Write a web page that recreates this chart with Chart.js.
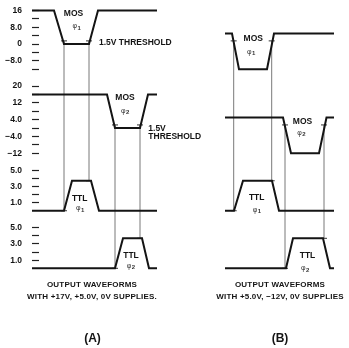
<!DOCTYPE html>
<html>
<head>
<meta charset="utf-8">
<script src="https://cdn.jsdelivr.net/npm/chart.js@4/dist/chart.umd.min.js"></script>
<style>
  html, body { margin: 0; padding: 0; background: #fff; }
  #wrap { width: 349px; height: 348px; position: relative; }
</style>
</head>
<body>
<div id="wrap"><canvas id="c"></canvas></div>
<script>
// ---- Waveform data: time (arbitrary units) and voltage (V) ----
// Panel A: +17V, +5.0V, 0V supplies
const tMos1A = [0, 22, 32, 57, 66, 125];
const vMos1A = [16, 16, 0, 0, 16, 16];
const tMos2A = [0, 75, 83, 108, 116, 125];
const vMos2A = [16, 16, 0, 0, 16, 16];
const tTtl1A = [0, 32, 40, 59, 67, 125];
const vTtl1A = [0, 0, 3.7, 3.7, 0, 0];
const tTtl2A = [0, 83, 91, 110, 117, 125];
const vTtl2A = [0, 0, 3.7, 3.7, 0, 0];

// Panel B: +5.0V, -12V, 0V supplies
const tMos1B = [193, 200, 207, 235, 242, 302];
const vMos1B = [5, 5, -12, -12, 5, 5];
const tMos2B = [193, 251, 259, 287, 294.5, 302];
const vMos2B = [5, 5, -12, -12, 5, 5];
const tTtl1B = [193, 202, 211, 240, 247, 302];
const vTtl1B = [0, 0, 3.7, 3.7, 0, 0];
const tTtl2B = [193, 254, 261, 291, 298, 302];
const vTtl2B = [0, 0, 3.7, 3.7, 0, 0];

// Threshold crossings that line up MOS edges with TTL edges
const THRESHOLD = 1.5;
const markTimesA = [32, 57, 83, 108];
const markTimesB = [201.7, 239.7, 253, 292];
const markTtlLevel = [0, 3.7, 0, 3.7];

// Axis ticks and their labels
const mos1Ticks = [16, 12, 8, 4, 0, -4, -8, -12];
const mos1Labels = ['16', '', '8.0', '', '0', '', '\u22128.0', ''];
const mos2Ticks = [20, 16, 12, 8, 4, 0, -4, -8, -12];
const mos2Labels = ['20', '', '12', '', '4.0', '', '\u22124.0', '', '\u221212'];
const ttlTicks = [5, 4, 3, 2, 1];
const ttlLabels = ['5.0', '', '3.0', '', '1.0'];

// ---- Layout constants ----
const MOS_PX = 2.1;   // vertical weight per volt, MOS rows
const TTL_PX = 8.1;   // vertical weight per volt, TTL rows
const INK = '#141414';
const FONT = '"Liberation Sans", Arial, sans-serif';

const rows = {
  yM1: { min: -17, max: 20, px: MOS_PX, ticks: mos1Ticks, labels: mos1Labels, weight: 4 },
  yM2: { min: -16, max: 23, px: MOS_PX, ticks: mos2Ticks, labels: mos2Labels, weight: 3 },
  yT1: { min: -0.9, max: 6.05, px: TTL_PX, ticks: ttlTicks, labels: ttlLabels, weight: 2 },
  yT2: { min: -0.95, max: 6.2, px: TTL_PX, ticks: ttlTicks, labels: ttlLabels, weight: 1 }
};

function makeAxis(r) {
  return {
    type: 'linear',
    position: 'left',
    stack: 'waves',
    stackWeight: (r.max - r.min) * r.px,
    weight: r.weight,
    min: r.min,
    max: r.max,
    afterBuildTicks: (ax) => { ax.ticks = r.ticks.map(v => ({ value: v })); },
    afterFit: (ax) => {
      ax.width = 32;
      ax.paddingTop = 0;
      ax.paddingBottom = 0;
    },
    border: { display: false },
    grid: {
      drawOnChartArea: false,
      drawTicks: true,
      tickLength: -7,
      tickColor: '#222',
      tickWidth: 1.2
    },
    ticks: {
      autoSkip: false,
      padding: 17,
      color: INK,
      font: { family: FONT, weight: 'bold', size: 8.5 },
      callback: (value) => {
        const i = r.ticks.indexOf(value);
        return i >= 0 ? r.labels[i] : '';
      }
    }
  };
}

function wave(t, v, axis) {
  return {
    data: t.map((x, i) => ({ x: x, y: v[i] })),
    yAxisID: axis,
    xAxisID: 'x',
    borderColor: INK,
    borderWidth: 2,
    pointRadius: 0,
    fill: false,
    tension: 0,
    borderJoinStyle: 'miter'
  };
}

// Thin alignment lines from the MOS 1.5V crossing down to the TTL edge
const markers = [];
[markTimesA, markTimesB].forEach(times => {
  times.forEach((t, i) => {
    markers.push({
      t: t,
      from: i < 2 ? 'yM1' : 'yM2',
      to: i < 2 ? 'yT1' : 'yT2',
      level: markTtlLevel[i]
    });
  });
});

const markerPlugin = {
  id: 'markers',
  beforeDatasetsDraw(chart) {
    const ctx = chart.ctx;
    const x = chart.scales.x;
    ctx.save();
    ctx.strokeStyle = '#555';
    ctx.lineWidth = 0.8;
    markers.forEach(m => {
      const px = x.getPixelForValue(m.t);
      const y1 = chart.scales[m.from].getPixelForValue(THRESHOLD);
      const y2 = chart.scales[m.to].getPixelForValue(m.level);
      ctx.beginPath();
      ctx.moveTo(px, y1);
      ctx.lineTo(px, y2);
      ctx.stroke();
    });
    ctx.lineWidth = 1;
    ctx.strokeStyle = '#333';
    markers.forEach(m => {
      const px = x.getPixelForValue(m.t);
      const y1 = chart.scales[m.from].getPixelForValue(THRESHOLD);
      const y2 = chart.scales[m.to].getPixelForValue(m.level);
      [y1, y2].forEach(yy => {
        ctx.beginPath();
        ctx.moveTo(px - 3, yy);
        ctx.lineTo(px + 3, yy);
        ctx.stroke();
      });
    });
    ctx.restore();
  }
};

// Signal names placed in data coordinates next to each trace
const notes = [
  { text: 'MOS', t: 41.5, axis: 'yM1', v: 14.3 },
  { phi: '1', t: 45, axis: 'yM1', v: 8.6 },
  { text: '1.5V THRESHOLD', t: 67, axis: 'yM1', v: 0.5, align: 'left' },
  { text: 'MOS', t: 93, axis: 'yM2', v: 14.6 },
  { phi: '2', t: 93.5, axis: 'yM2', v: 8.3 },
  { text: '1.5V', t: 116.3, axis: 'yM2', v: -0.1, align: 'left' },
  { text: 'THRESHOLD', t: 116.3, axis: 'yM2', v: -4.3, align: 'left' },
  { text: 'TTL', t: 47.7, axis: 'yT1', v: 1.52 },
  { phi: '1', t: 48.5, axis: 'yT1', v: 0.28 },
  { text: 'TTL', t: 99, axis: 'yT2', v: 1.62 },
  { phi: '2', t: 99.3, axis: 'yT2', v: 0.32 },

  { text: 'MOS', t: 221.3, axis: 'yM1', v: 2.6 },
  { phi: '1', t: 219.5, axis: 'yM1', v: -3.6 },
  { text: 'MOS', t: 270.5, axis: 'yM2', v: 3 },
  { phi: '2', t: 269.7, axis: 'yM2', v: -2.2 },
  { text: 'TTL', t: 224.7, axis: 'yT1', v: 1.64 },
  { phi: '1', t: 225.3, axis: 'yT1', v: 0.14 },
  { text: 'TTL', t: 275.5, axis: 'yT2', v: 1.53 },
  { phi: '2', t: 273.5, axis: 'yT2', v: 0.05 }
];

const captions = [
  { text: 'OUTPUT WAVEFORMS', x: 92, y: 285, size: 8, spacing: '0.2px' },
  { text: 'WITH +17V, +5.0V, 0V SUPPLIES.', x: 92, y: 296.5, size: 8, spacing: '0.2px' },
  { text: 'OUTPUT WAVEFORMS', x: 280, y: 285, size: 8, spacing: '0.2px' },
  { text: 'WITH +5.0V, \u221212V, 0V SUPPLIES', x: 280, y: 296.5, size: 8, spacing: '0.2px' },
  { text: '(A)', x: 92.5, y: 339, size: 12, spacing: '0px' },
  { text: '(B)', x: 280, y: 339, size: 12, spacing: '0px' }
];

const textPlugin = {
  id: 'texts',
  afterDraw(chart) {
    const ctx = chart.ctx;
    const x = chart.scales.x;
    ctx.save();
    ctx.fillStyle = INK;
    ctx.textBaseline = 'middle';
    notes.forEach(n => {
      const px = x.getPixelForValue(n.t);
      const py = chart.scales[n.axis].getPixelForValue(n.v);
      if (n.phi) {
        ctx.fillStyle = '#333';
        ctx.textAlign = 'right';
        ctx.font = '7px ' + FONT;
        ctx.fillText('\u03c6', px, py);
        ctx.textAlign = 'left';
        ctx.font = 'bold 6px ' + FONT;
        ctx.fillText(n.phi, px + 0.5, py + 2);
        ctx.fillStyle = INK;
      } else {
        ctx.textAlign = n.align || 'center';
        ctx.font = 'bold 8.5px ' + FONT;
        ctx.fillText(n.text, px, py);
      }
    });
    ctx.textAlign = 'center';
    captions.forEach(c => {
      ctx.font = 'bold ' + c.size + 'px ' + FONT;
      if ('letterSpacing' in ctx) ctx.letterSpacing = c.spacing;
      ctx.fillText(c.text, c.x, c.y);
    });
    ctx.restore();
  }
};

const scales = { x: { type: 'linear', min: 0, max: 302, display: false } };
Object.keys(rows).forEach(k => { scales[k] = makeAxis(rows[k]); });

new Chart(document.getElementById('c'), {
  type: 'line',
  data: {
    datasets: [
      wave(tMos1A, vMos1A, 'yM1'),
      wave(tMos2A, vMos2A, 'yM2'),
      wave(tTtl1A, vTtl1A, 'yT1'),
      wave(tTtl2A, vTtl2A, 'yT2'),
      wave(tMos1B, vMos1B, 'yM1'),
      wave(tMos2B, vMos2B, 'yM2'),
      wave(tTtl1B, vTtl1B, 'yT1'),
      wave(tTtl2B, vTtl2B, 'yT2')
    ]
  },
  options: {
    responsive: true,
    maintainAspectRatio: false,
    animation: false,
    devicePixelRatio: 1,
    layout: { padding: { left: 0, right: 15, top: 2, bottom: 72 } },
    plugins: { legend: { display: false }, tooltip: { enabled: false } },
    scales: scales
  },
  plugins: [markerPlugin, textPlugin]
});
</script>
</body>
</html>
